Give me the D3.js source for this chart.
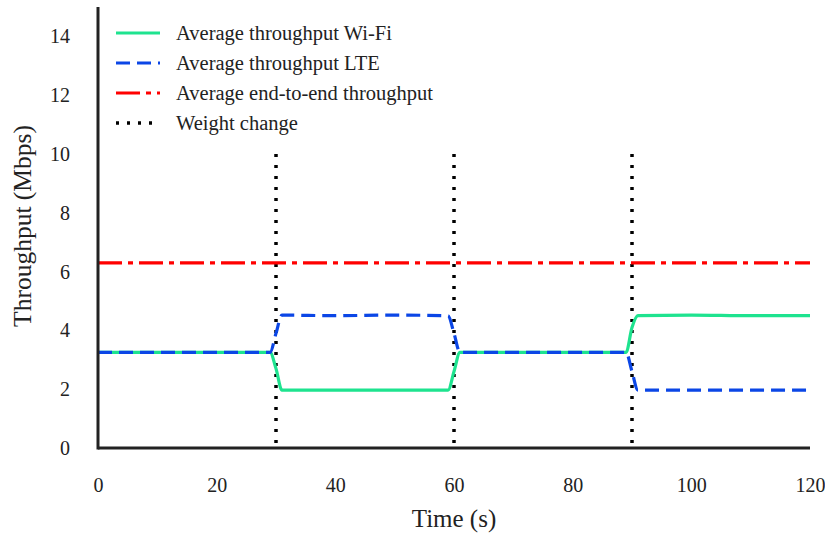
<!DOCTYPE html>
<html><head><meta charset="utf-8">
<script src="https://cdn.jsdelivr.net/npm/d3@7"></script>
<style>body{margin:0;background:#fff}</style>
</head><body><svg id="c" width="825" height="533"></svg>
<script>
const timeS = [0, 10, 20, 29, 30, 31, 40, 50, 59, 60, 61, 70, 80, 89, 90, 91, 100, 110, 120];
const wifi  = [3.25, 3.25, 3.25, 3.25, 2.7, 1.97, 1.97, 1.97, 1.97, 2.6, 3.25, 3.25, 3.25, 3.25, 4.1, 4.5, 4.52, 4.5, 4.5];
const lte   = [3.25, 3.25, 3.25, 3.25, 3.9, 4.52, 4.5, 4.52, 4.5, 3.9, 3.25, 3.25, 3.25, 3.25, 2.6, 1.97, 1.97, 1.97, 1.97];
const e2e   = [6.3, 6.3, 6.3, 6.3, 6.3, 6.3, 6.3, 6.3, 6.3, 6.3, 6.3, 6.3, 6.3, 6.3, 6.3, 6.3, 6.3, 6.3, 6.3];
const weightTimes = [30, 60, 90];
const weightTop = 10;
const xTicks = [0, 20, 40, 60, 80, 100, 120];
const yTicks = [0, 2, 4, 6, 8, 10, 12, 14];
const legendLabels = ["Average throughput Wi-Fi", "Average throughput LTE", "Average end-to-end throughput", "Weight change"];

const svg = d3.select("#c");
const font = "'Liberation Serif', 'Times New Roman', serif";
const x = d3.scaleLinear().domain([0, 120]).range([98, 810]);
const y = d3.scaleLinear().domain([0, 15]).range([448, 7]);

const styles = [
  {color: "#1ee38f", dash: null, w: 3.2},
  {color: "#0b46e6", dash: "14,7", w: 3.2},
  {color: "#ff0000", dash: "24,6,5,6", w: 3.2},
  {color: "#000000", dash: "3,8", w: 3.5}
];

weightTimes.forEach(t => {
  svg.append("line").attr("x1", x(t)).attr("x2", x(t)).attr("y1", y(weightTop)).attr("y2", y(0))
    .attr("stroke", "#000").attr("stroke-width", 3.5).attr("stroke-dasharray", "3,8");
});

const line = d3.line().x(d => x(d[0])).y(d => y(d[1])).curve(d3.curveMonotoneX);
[[wifi, 0], [lte, 1], [e2e, 2]].forEach(([vals, i]) => {
  const s = styles[i];
  svg.append("path").datum(timeS.map((t, k) => [t, vals[k]]))
    .attr("d", line).attr("fill", "none").attr("stroke", s.color)
    .attr("stroke-width", s.w).attr("stroke-dasharray", s.dash).attr("stroke-linejoin", "round");
});

const xAxis = d3.axisBottom(x).tickValues(xTicks).tickSize(0).tickPadding(30);
const gx = svg.append("g").attr("transform", "translate(0,448)").call(xAxis);
gx.select(".domain").attr("stroke", "#222").attr("stroke-width", 3).attr("d", "M98,0H810");
gx.selectAll("text").attr("font-family", font).attr("font-size", 20).attr("fill", "#222");

const yAxis = d3.axisLeft(y).tickValues(yTicks).tickSize(0).tickPadding(28);
const gy = svg.append("g").attr("transform", "translate(98,0)").call(yAxis);
gy.select(".domain").attr("stroke", "#222").attr("stroke-width", 3).attr("d", "M0,7V449.5");
gy.selectAll("text").attr("font-family", font).attr("font-size", 20).attr("fill", "#222");

svg.append("text").attr("x", 454).attr("y", 527).attr("text-anchor", "middle")
  .attr("font-family", font).attr("font-size", 25).attr("fill", "#222").text("Time (s)");
svg.append("text").attr("transform", "translate(31,226) rotate(-90)").attr("text-anchor", "middle")
  .attr("font-family", font).attr("font-size", 25.5).attr("fill", "#222").text("Throughput (Mbps)");

legendLabels.forEach((lab, i) => {
  const yy = 33 + i * 30;
  const s = styles[i];
  svg.append("line").attr("x1", 116).attr("x2", 160).attr("y1", yy).attr("y2", yy)
    .attr("stroke", s.color).attr("stroke-width", s.w).attr("stroke-dasharray", s.dash);
  svg.append("text").attr("x", 176).attr("y", yy + 7).attr("font-family", font)
    .attr("font-size", 20.5).attr("fill", "#222").text(lab);
});
</script></body></html>
